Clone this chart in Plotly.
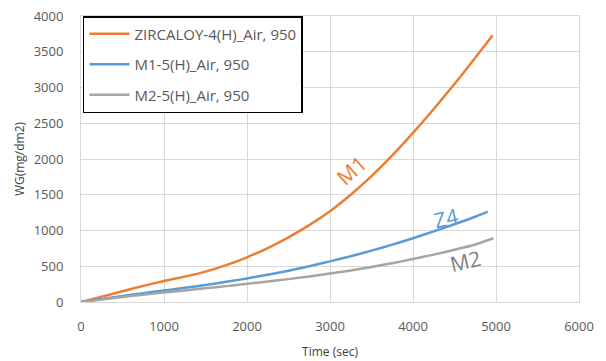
import plotly.graph_objects as go

# Data
t_zr = [0, 250, 500, 750, 1000, 1250, 1500, 1750, 2000, 2250, 2500, 2750, 3000,
        3250, 3500, 3750, 4000, 4250, 4500, 4750, 4960]
wg_zr = [0, 75, 150, 225, 295, 355, 425, 515, 625, 755, 905, 1075, 1270,
         1500, 1760, 2050, 2365, 2700, 3050, 3415, 3730]

t_m1 = [0, 250, 500, 750, 1000, 1250, 1500, 1750, 2000, 2250, 2500, 2750, 3000,
        3250, 3500, 3750, 4000, 4250, 4500, 4750, 4900]
wg_m1 = [0, 42, 84, 124, 160, 198, 238, 282, 330, 382, 438, 500, 568,
         640, 718, 802, 892, 988, 1088, 1192, 1263]

t_m2 = [0, 250, 500, 750, 1000, 1250, 1500, 1750, 2000, 2250, 2500, 2750, 3000,
        3250, 3500, 3750, 4000, 4250, 4500, 4750, 4970]
wg_m2 = [0, 35, 70, 102, 132, 162, 192, 222, 254, 286, 320, 357, 398,
         442, 490, 543, 601, 663, 730, 805, 891]

series_names = ["ZIRCALOY-4(H)_Air, 950", "M1-5(H)_Air, 950", "M2-5(H)_Air, 950"]
colors = ["#ED7D31", "#5B9BD5", "#A5A5A5"]

labels = ["M1", "Z4", "M2"]
label_x = [3261, 4392, 4633]
label_y = [1846, 1175, 573]
label_angle = [-42, -13, -13]
label_colors = ["#ED7D31", "#5B9BD5", "#7F7F7F"]

fig = go.Figure()
for i, (t, w) in enumerate([(t_zr, wg_zr), (t_m1, wg_m1), (t_m2, wg_m2)]):
    fig.add_trace(go.Scatter(
        x=t, y=w, mode="lines", name=series_names[i],
        line=dict(color=colors[i], width=2.5, shape="spline", smoothing=0.5),
        legendgroup=str(i),
    ))

for i in range(3):
    fig.add_annotation(
        x=label_x[i], y=label_y[i], text=labels[i], showarrow=False,
        textangle=label_angle[i],
        font=dict(family="Open Sans, sans-serif", size=21, color=label_colors[i]),
    )

axis_common = dict(
    showgrid=True, gridcolor="#D9D9D9", gridwidth=1,
    showline=True, linecolor="#D9D9D9", linewidth=1, mirror=True,
    zeroline=False, ticks="", automargin=False,
    tickfont=dict(family="Open Sans, sans-serif", size=13, color="#595959"),
)

fig.update_layout(
    width=606, height=361,
    margin=dict(l=81, r=27, t=16, b=59),
    paper_bgcolor="white", plot_bgcolor="white",
    xaxis=dict(range=[0, 6000], dtick=1000, ticklabelstandoff=12,
               title=dict(text="Time (sec)", standoff=14,
                          font=dict(family="Open Sans, sans-serif", size=12, color="#404040")),
               **axis_common),
    yaxis=dict(range=[0, 4000], dtick=500, ticklabelstandoff=14,
               title=dict(text="WG(mg/dm2)", standoff=6,
                          font=dict(family="Open Sans, sans-serif", size=12, color="#404040")),
               **axis_common),
    legend=dict(
        x=0.004, y=1.0, xanchor="left", yanchor="top",
        bgcolor="white", bordercolor="black", borderwidth=1.5,
        font=dict(family="Open Sans, sans-serif", size=15, color="#595959"),
        tracegroupgap=8, itemwidth=40,
    ),
    showlegend=True,
)

fig.write_html("out.html")
